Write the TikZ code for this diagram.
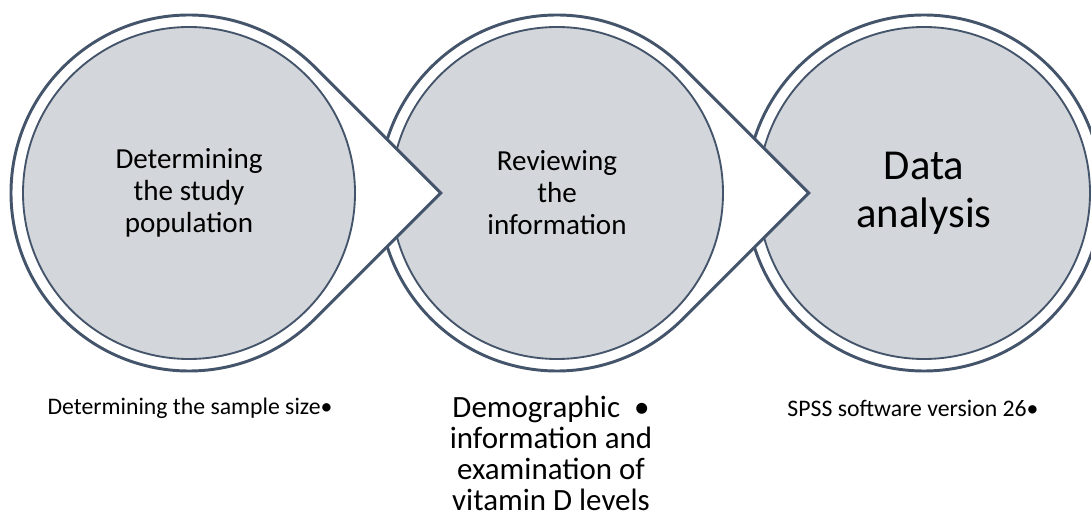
\documentclass[tikz,border=0pt]{standalone}
\usepackage{fontspec}
\setmainfont{Carlito}

\definecolor{ringline}{HTML}{44546A}
\definecolor{stagefill}{HTML}{D3D6DA}

\tikzset{
  ring/.style={draw=ringline, line width=2.2pt, fill=white},
  stage/.style={circle, draw=ringline, line width=1.4pt, fill=stagefill,
    minimum size=249pt, inner sep=0pt, align=center},
  note/.style={align=center, inner sep=0pt}
}

\begin{document}
\begin{tikzpicture}[x=0.75pt,y=0.75pt]

      \useasboundingbox (0,0) rectangle (1091,521);
      \clip (0,0) rectangle (1091,521);

      \coordinate (c1) at (189,328);
      \coordinate (c2) at (557,328);
      \coordinate (c3) at (924,328);

      % last stage first, so every pointer lies over the next circle
      \draw[ring] (c3) circle[radius=133.5pt];
      \node[stage, font=\fontsize{32}{36}\selectfont] (s3) at (c3) {Data\\analysis};

      \draw[ring] ([shift={(45:133.5pt)}]c2) arc[start angle=45, end angle=315, radius=133.5pt]
        -- ([xshift=188.8pt]c2) -- cycle;
      \node[stage, font=\fontsize{21.8}{24}\selectfont] (s2) at (c2) {Reviewing\\the\\information};

      \draw[ring] ([shift={(45:133.5pt)}]c1) arc[start angle=45, end angle=315, radius=133.5pt]
        -- ([xshift=188.8pt]c1) -- cycle;
      \node[stage, font=\fontsize{21.8}{24}\selectfont] (s1) at (c1) {Determining\\the study\\population};

      \begin{scope}[every node/.style={note}]
        \node[font=\fontsize{17.8}{20}\selectfont] (n1) at (190,113) {Determining the sample size•};
        \node[font=\fontsize{23.2}{23.2}\selectfont, anchor=north] (n2) at (551,125)
          {Demographic~~•\\information and\\examination of\\vitamin D levels};
        \node[font=\fontsize{17.8}{20}\selectfont] (n3) at (913,113) {SPSS software version 26•};
      \end{scope}

    \end{tikzpicture}
\end{document}
